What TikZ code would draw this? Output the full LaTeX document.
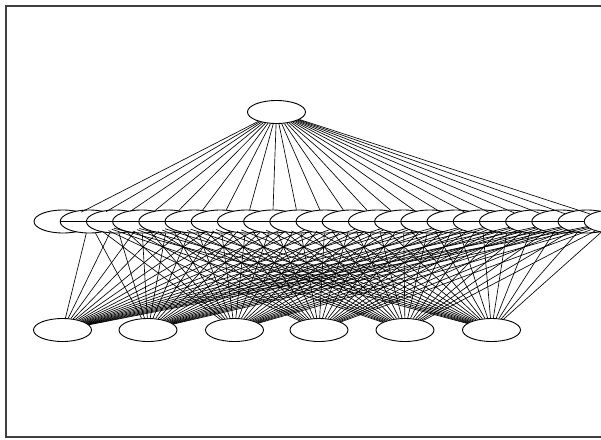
\documentclass[tikz,border=0pt]{standalone}
\usetikzlibrary{shapes.geometric}
\begin{document}
\begin{tikzpicture}[x=1pt,y=-1pt,
  nd/.style={draw=black,line width=0.9pt,fill=white,ellipse,minimum width=58pt,minimum height=23pt,inner sep=0pt},
  ed/.style={draw=black,line width=0.65pt},
  frame/.style={draw=black!75,line width=2pt}]
\useasboundingbox (0,0) rectangle (601,439);
\clip (0,0) rectangle (601,439);
\draw[frame] (5.5,5.5) rectangle (640,436.5);
% top
\node[nd] (t) at (276.5,112) {};
% middle row
\foreach \i in {1,...,22}{
  \pgfmathsetmacro{\xx}{63+(\i-1)*26.2}
  \node[nd] (m\i) at (\xx,221.5) {};
}
% bottom row
\foreach \j/\xx in {1/62.5,2/148,3/234.5,4/319,5/405,6/491.5}{
  \node[nd] (b\j) at (\xx,330) {};
}
% edges
\foreach \i in {1,...,22}{
  \draw[ed] (t) -- (m\i);
}
\foreach \i in {2,...,22}{
  \foreach \j in {1,...,6}{
    \draw[ed] (m\i) -- (b\j);
  }
}
\draw[line width=1.3pt] (m2.west) -- (m22.west);
\end{tikzpicture}
\end{document}
